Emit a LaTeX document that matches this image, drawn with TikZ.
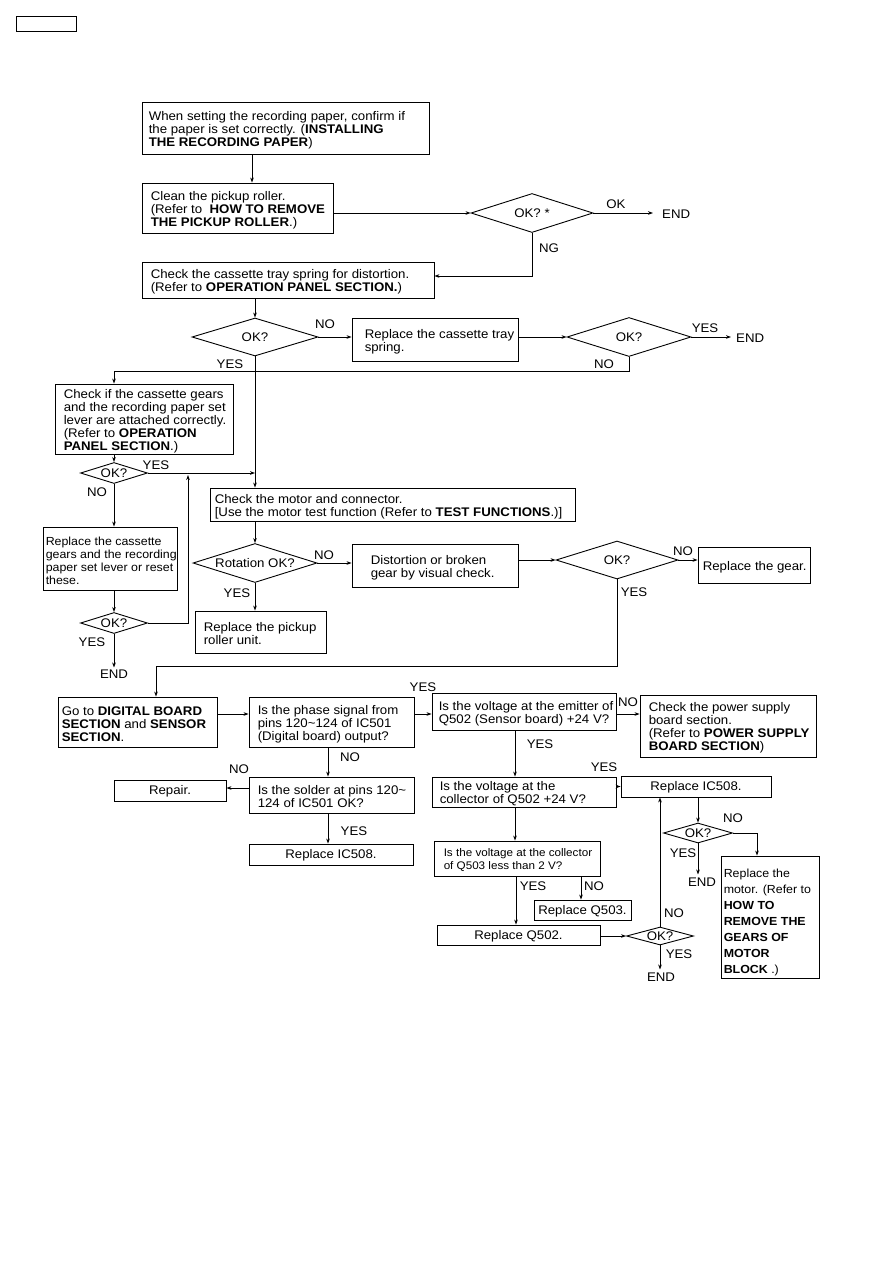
\documentclass[tikz,border=0pt]{standalone}
\usepackage{fontspec}
\setmainfont{Liberation Sans}[FakeStretch=1.06]
\usetikzlibrary{shapes.geometric,fit,arrows.meta}
\tikzset{
  bx/.style={draw, line width=0.9pt, inner sep=0pt},
  txt/.style={inner sep=0pt, align=left, anchor=west, yshift=-2pt, font=\fontsize{12.5}{13}\selectfont},
  ctxt/.style={inner sep=0pt, align=center, yshift=-1pt, font=\fontsize{12.5}{13}\selectfont},
  dia/.style={draw, diamond, line width=0.9pt, inner sep=0pt},
  arr/.style={-{Stealth[length=5pt,width=3.6pt]}, line width=0.8pt},
  lbl/.style={inner sep=0pt, font=\fontsize{12.5}{13}\selectfont},
}
\begin{document}
\begin{tikzpicture}[x=1pt,y=-1pt]
\useasboundingbox (0,0) rectangle (893,1263);
\fill[white] (0,0) rectangle (893,1263);
% top-left tag
\node[draw, line width=0.8pt, inner sep=0pt, fit={(16,16) (76,31)}] (tag) {};
% boxes
\node[bx, fit={(142,102) (429,154)}] (b1) {};
\node[txt] (t1) at ([xshift=7pt]b1.west) {When setting the recording paper, confirm if\\the paper is set correctly. (\textbf{INSTALLING}\\\textbf{THE RECORDING PAPER})};
\node[bx, fit={(142,183) (333,233)}] (b2) {};
\node[txt] (t2) at ([xshift=9pt]b2.west) {Clean the pickup roller.\\(Refer to \ \textbf{HOW TO REMOVE}\\\textbf{THE PICKUP ROLLER}.)};
\node[bx, fit={(142,262) (434,298)}] (b3) {};
\node[txt] (t3) at ([xshift=9pt]b3.west) {Check the cassette tray spring for distortion.\\(Refer to \textbf{OPERATION PANEL SECTION.})};
\node[bx, fit={(352,318) (518,361)}] (b4) {};
\node[txt] (t4) at ([xshift=13pt]b4.west) {Replace the cassette tray\\spring.};
\node[bx, fit={(55,384) (233,454)}] (b5) {};
\node[txt] (t5) at ([xshift=9pt]b5.west) {Check if the cassette gears\\and the recording paper set\\lever are attached correctly.\\(Refer to \textbf{OPERATION}\\\textbf{PANEL SECTION}.)};
\node[bx, fit={(210,488) (575,521)}] (b6) {};
\node[txt] (t6) at ([xshift=5pt]b6.west) {Check the motor and connector.\\{[}Use the motor test function (Refer to \textbf{TEST FUNCTIONS}.)]};
\node[bx, fit={(43,527) (177,590)}] (b7) {};
\node[txt, font=\fontsize{11.7}{13}\selectfont] (t7) at ([xshift=3pt]b7.west) {Replace the cassette\\gears and the recording\\paper set lever or reset\\these.};
\node[bx, fit={(352,544) (518,587)}] (b8) {};
\node[txt] (t8) at ([xshift=19pt]b8.west) {Distortion or broken\\gear by visual check.};
\node[bx, fit={(698,547) (810,583)}] (b9) {};
\node[txt] (t9) at ([xshift=5pt]b9.west) {Replace the gear.};
\node[bx, fit={(195,611) (326,653)}] (b11) {};
\node[txt] (t11) at ([xshift=9pt]b11.west) {Replace the pickup\\roller unit.};
\node[bx, fit={(58,697) (217,747)}] (b10) {};
\node[txt] (t10) at ([xshift=4pt]b10.west) {Go to \textbf{DIGITAL BOARD}\\\textbf{SECTION} and \textbf{SENSOR}\\\textbf{SECTION}.};
\node[bx, fit={(249,697) (414,747)}] (b12) {};
\node[txt] (t12) at ([xshift=9pt]b12.west) {Is the phase signal from\\pins 120\textasciitilde 124 of IC501\\(Digital board) output?};
\node[bx, fit={(432,693) (616,730)}] (b13) {};
\node[txt] (t13) at ([xshift=7pt]b13.west) {Is the voltage at the emitter of\\Q502 (Sensor board) +24 V?};
\node[bx, fit={(640,695) (816,757)}] (b16) {};
\node[txt] (t16) at ([xshift=9pt]b16.west) {Check the power supply\\board section.\\(Refer to \textbf{POWER SUPPLY}\\\textbf{BOARD SECTION})};
\node[bx, fit={(249,777) (414,813)}] (b14) {};
\node[txt] (t14) at ([xshift=9pt]b14.west) {Is the solder at pins 120\textasciitilde\\124 of IC501 OK?};
\node[bx, fit={(114,780) (226,801)}] (rep) {};
\node[ctxt] (trep) at (rep) {Repair.};
\node[bx, fit={(249,844) (413,865)}] (b15) {};
\node[ctxt] (t15) at (b15) {Replace IC508.};
\node[bx, fit={(432,777) (616,807)}] (b17) {};
\node[txt] (t17) at ([xshift=8pt]b17.west) {Is the voltage at the\\collector of Q502 +24 V?};
\node[bx, fit={(621,776) (771,797)}] (b18) {};
\node[ctxt] (t18) at (b18) {Replace IC508.};
\node[bx, fit={(434,841) (600,876)}] (b20) {};
\node[txt, font=\fontsize{11}{13}\selectfont] (t20) at ([xshift=10pt]b20.west) {Is the voltage at the collector\\of Q503 less than 2 V?};
\node[bx, fit={(534,900) (631,920)}] (b22) {};
\node[ctxt] (t22) at (b22) {Replace Q503.};
\node[bx, fit={(437,925) (600,945)}] (b21) {};
\node[ctxt] (t21) at (b21) {Replace Q502.};
\node[bx, fit={(721,856) (819,978)}] (b19) {};
\node[txt, yshift=-3pt, font=\fontsize{11.7}{16}\selectfont] (t19) at ([xshift=3pt]b19.west) {Replace the\\motor. (Refer to\\\textbf{HOW TO}\\\textbf{REMOVE THE}\\\textbf{GEARS OF}\\\textbf{MOTOR}\\\textbf{BLOCK} .)};
% diamonds
\node[dia, minimum width=122pt, minimum height=39pt] (d1) at (532,213) {};
\node[lbl] (d1t) at (d1) {OK? *};
\node[dia, minimum width=126pt, minimum height=38pt] (d2) at (255,337) {};
\node[lbl] (d2t) at (d2) {OK?};
\node[dia, minimum width=124pt, minimum height=39pt] (d3) at (629,337) {};
\node[lbl] (d3t) at (d3) {OK?};
\node[dia, minimum width=67pt, minimum height=21pt] (d4) at (114,473) {};
\node[lbl] (d4t) at (d4) {OK?};
\node[dia, minimum width=67pt, minimum height=21pt] (d5) at (114,623) {};
\node[lbl] (d5t) at (d5) {OK?};
\node[dia, minimum width=124pt, minimum height=39pt] (d6) at (255,563) {};
\node[lbl] (d6t) at (d6) {Rotation OK?};
\node[dia, minimum width=122pt, minimum height=38pt] (d7) at (617,560) {};
\node[lbl] (d7t) at (d7) {OK?};
\node[dia, minimum width=69pt, minimum height=20pt] (d8) at (698,833) {};
\node[lbl] (d8t) at (d8) {OK?};
\node[dia, minimum width=67pt, minimum height=18pt] (d9) at (660,936) {};
\node[lbl] (d9t) at (d9) {OK?};
% END nodes
\node[lbl, anchor=west] (e1) at (662,214) {END};
\node[lbl, anchor=west] (e2) at (736,338) {END};
\node[lbl] (e3) at (114,674) {END};
\node[lbl] (e4) at (702,882) {END};
\node[lbl] (e5) at (661,977) {END};
% junction coordinates
\coordinate (j1) at (255,473);
\coordinate (j2) at (188,473);
% connectors
\draw[arr] (252,0 |- b1.south) -- (252,0 |- b2.north);
\draw[arr] (b2.east |- d1.west) -- (d1.west);
\draw[arr] (d1.east) -- ([xshift=-9pt]e1.west |- d1.east);
\draw[arr] (d1.south) -- (d1.south |- 0,276) -- (b3.east |- 0,276);
\draw[arr] (255,0 |- b3.south) -- (d2.north);
\draw[arr] (d2.east) -- (b4.west |- d2.east);
\draw[arr] (b4.east |- d3.west) -- (d3.west);
\draw[arr] (d3.east) -- ([xshift=-5pt]e2.west |- d3.east);
\draw[arr] (d3.south) -- (d3.south |- 0,371) -- (114,371) -- (114,0 |- b5.north);
\draw[arr] (d2.south) -- (255,0 |- b6.north);
\draw[arr] (114,0 |- b5.south) -- (d4.north);
\draw[arr] (d4.east) -- (j1);
\draw[arr] (d4.south) -- (114,0 |- b7.north);
\draw[arr] (114,0 |- b7.south) -- (d5.north);
\draw[arr] (d5.east) -- (188,623) -- ([yshift=-2pt]j2);
\draw[arr] (d5.south) -- ([yshift=2pt]e3.north);
\draw[arr] (255,0 |- b6.south) -- (d6.north);
\draw[arr] (d6.east) -- (b8.west |- d6.east);
\draw[arr] (b8.east |- d7.west) -- (d7.west);
\draw[arr] (d7.east) -- (b9.west |- d7.east);
\draw[arr] (d6.south) -- (255,0 |- b11.north);
\draw[arr] (d7.south) -- (617,666) -- (156,666) -- (156,0 |- b10.north);
\draw[arr] (b10.east |- 0,714) -- (b12.west |- 0,714);
\draw[arr] (b12.east |- 0,714) -- (b13.west |- 0,714);
\draw[arr] (b13.east |- 0,714) -- (b16.west |- 0,714);
\draw[arr] (328,0 |- b12.south) -- (328,0 |- b14.north);
\draw[arr] (b14.west |- 0,788) -- (rep.east |- 0,788);
\draw[arr] (328,0 |- b14.south) -- (328,0 |- b15.north);
\draw[arr] (515,0 |- b13.south) -- (515,0 |- b17.north);
\draw[arr] (b17.east |- b18.west) -- (b18.west);
\draw[arr] (698,0 |- b18.south) -- (d8.north);
\draw[arr] (d8.east) -- (757,833) -- (757,0 |- b19.north);
\draw[arr] (d8.south) -- ([yshift=3pt]d8.south |- e4.north);
\draw[arr] (515,0 |- b17.south) -- (515,0 |- b20.north);
\draw[arr] (516,0 |- b20.south) -- (516,0 |- b21.north);
\draw[arr] (581,0 |- b20.south) -- (581,0 |- b22.north);
\draw[arr] (b21.east |- d9.west) -- (d9.west);
\draw[arr] (d9.north) -- (660,0 |- b18.south);
\draw[arr] (d9.south) -- ([yshift=3pt]d9.south |- e5.north);
% labels
\node[lbl] (l1) at (616,204) {OK};
\node[lbl] (l2) at (549,248) {NG};
\node[lbl] (l3) at (325,324) {NO};
\node[lbl] (l4) at (705,328) {YES};
\node[lbl] (l5) at (604,364) {NO};
\node[lbl] (l6) at (230,364) {YES};
\node[lbl] (l7) at (156,465) {YES};
\node[lbl] (l8) at (97,492) {NO};
\node[lbl] (l9) at (92,642) {YES};
\node[lbl] (l10) at (324,555) {NO};
\node[lbl] (l11) at (237,593) {YES};
\node[lbl] (l12) at (683,551) {NO};
\node[lbl] (l13) at (634,592) {YES};
\node[lbl] (l14) at (423,687) {YES};
\node[lbl] (l15) at (350,757) {NO};
\node[lbl] (l16) at (239,769) {NO};
\node[lbl] (l17) at (354,831) {YES};
\node[lbl] (l18) at (628,702) {NO};
\node[lbl] (l19) at (540,744) {YES};
\node[lbl] (l20) at (604,767) {YES};
\node[lbl] (l21) at (733,818) {NO};
\node[lbl] (l22) at (683,853) {YES};
\node[lbl] (l23) at (533,886) {YES};
\node[lbl] (l24) at (594,886) {NO};
\node[lbl] (l25) at (674,913) {NO};
\node[lbl] (l26) at (679,954) {YES};
\end{tikzpicture}
\end{document}
